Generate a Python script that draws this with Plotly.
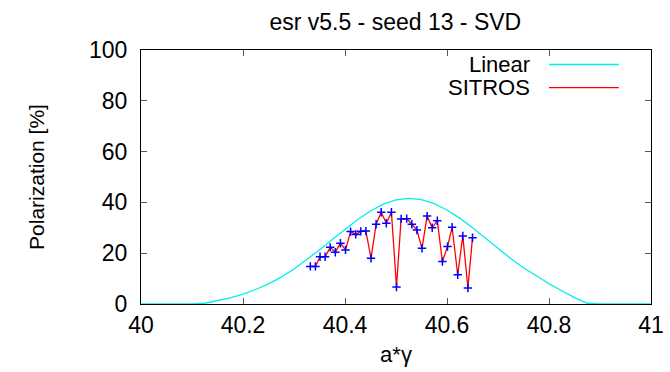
import plotly.graph_objects as go

# ---- data ----
linear_x = [40.000, 40.025, 40.050, 40.075, 40.100, 40.125, 40.150, 40.175, 40.200, 40.225,
            40.250, 40.275, 40.300, 40.325, 40.350, 40.375, 40.400, 40.425, 40.450, 40.475,
            40.500, 40.525, 40.550, 40.575, 40.600, 40.625, 40.650, 40.675, 40.700, 40.725,
            40.750, 40.775, 40.800, 40.825, 40.850, 40.875, 40.900, 40.925, 40.950, 40.975, 41.000]
linear_y = [0, 0, 0, 0, 0, 0.3, 1.2, 2.4, 3.9, 5.7,
            7.9, 10.6, 13.8, 17.4, 21.3, 25.4, 29.5, 33.3, 36.6, 39.3,
            41.0, 41.6, 41.1, 39.5, 37.0, 33.8, 30.0, 26.0, 21.9, 17.9,
            14.3, 11.0, 8.0, 5.2, 2.5, 0.3, 0, 0, 0, 0, 0]

sitros_x = [40.332, 40.342, 40.351, 40.361, 40.371, 40.381, 40.391, 40.401, 40.411, 40.421,
            40.431, 40.441, 40.451, 40.461, 40.471, 40.481, 40.491, 40.501, 40.510, 40.521,
            40.531, 40.541, 40.551, 40.561, 40.571, 40.581, 40.591, 40.601, 40.610, 40.621,
            40.631, 40.641, 40.650]
sitros_y = [14.8, 14.8, 18.6, 18.6, 22.3, 20.4, 23.9, 21.3, 28.5, 27.4,
            28.6, 28.7, 18.0, 31.4, 36.1, 31.8, 36.1, 6.7, 33.5, 33.6,
            31.4, 29.1, 21.9, 34.6, 30.0, 32.8, 16.7, 22.6, 30.2, 11.5,
            26.8, 6.3, 26.1]

x_ticks = [40, 40.2, 40.4, 40.6, 40.8, 41]
x_tick_labels = ["40", "40.2", "40.4", "40.6", "40.8", "41"]
y_ticks = [0, 20, 40, 60, 80, 100]
y_tick_labels = ["0", "20", "40", "60", "80", "100"]

series_names = ["Linear", "SITROS"]
title_text = "esr v5.5 - seed 13 - SVD"
x_title = "a*γ"
y_title = "Polarization [%]"

LINEAR_COLOR = "#00eeee"
SITROS_LINE = "#ff0000"
SITROS_MARK = "#0000ff"
FONT = "Liberation Sans, Arial, sans-serif"

fig = go.Figure()
fig.add_trace(go.Scatter(x=linear_x, y=linear_y, mode="lines", name=series_names[0],
                         line=dict(color=LINEAR_COLOR, width=1.3), showlegend=False))
fig.add_trace(go.Scatter(x=sitros_x, y=sitros_y, mode="lines+markers", name=series_names[1],
                         line=dict(color=SITROS_LINE, width=1.3),
                         marker=dict(symbol="cross-thin-open", size=6, color=SITROS_MARK,
                                     line=dict(color=SITROS_MARK, width=1.5)),
                         showlegend=False))

# legend drawn gnuplot-style: text right-aligned, sample line to the right
leg_text_x = 0.765
leg_line_x0, leg_line_x1 = 0.800, 0.937
leg_rows = [(series_names[0], 0.943, LINEAR_COLOR), (series_names[1], 0.852, SITROS_LINE)]
for name, yy, col in leg_rows:
    fig.add_annotation(x=leg_text_x, y=yy, xref="paper", yref="paper", text=name,
                       showarrow=False, xanchor="right", yanchor="middle",
                       font=dict(family=FONT, size=22, color="#000"),
                       height=21, valign="middle", borderpad=0)
    fig.add_shape(type="line", xref="paper", yref="paper", x0=leg_line_x0, x1=leg_line_x1,
                  y0=yy, y1=yy, line=dict(color=col, width=1.3))

axis_common = dict(showline=True, linecolor="#000", linewidth=1.2, mirror="allticks",
                   ticks="inside", ticklen=6, tickcolor="#555", tickwidth=1,
                   showgrid=False, zeroline=False, automargin=False,
                   tickfont=dict(family=FONT, size=23, color="#000"))

fig.update_layout(
    width=670, height=372,
    margin=dict(l=141, r=19, t=50, b=68),
    paper_bgcolor="white", plot_bgcolor="white",
    title=dict(text=title_text, x=0.59, xanchor="center", y=0.94, yanchor="middle",
               font=dict(family=FONT, size=23, color="#000")),
    xaxis=dict(range=[40, 41], tickvals=x_ticks, ticktext=x_tick_labels,
               title=dict(text=x_title, font=dict(family=FONT, size=22, color="#000"), standoff=9),
               **axis_common),
    yaxis=dict(range=[0, 100], tickvals=y_ticks, ticktext=y_tick_labels,
               title=dict(text=y_title, font=dict(family=FONT, size=21, color="#000"), standoff=38),
               ticklabelstandoff=8,
               **axis_common),
)

fig.write_html("out.html")
